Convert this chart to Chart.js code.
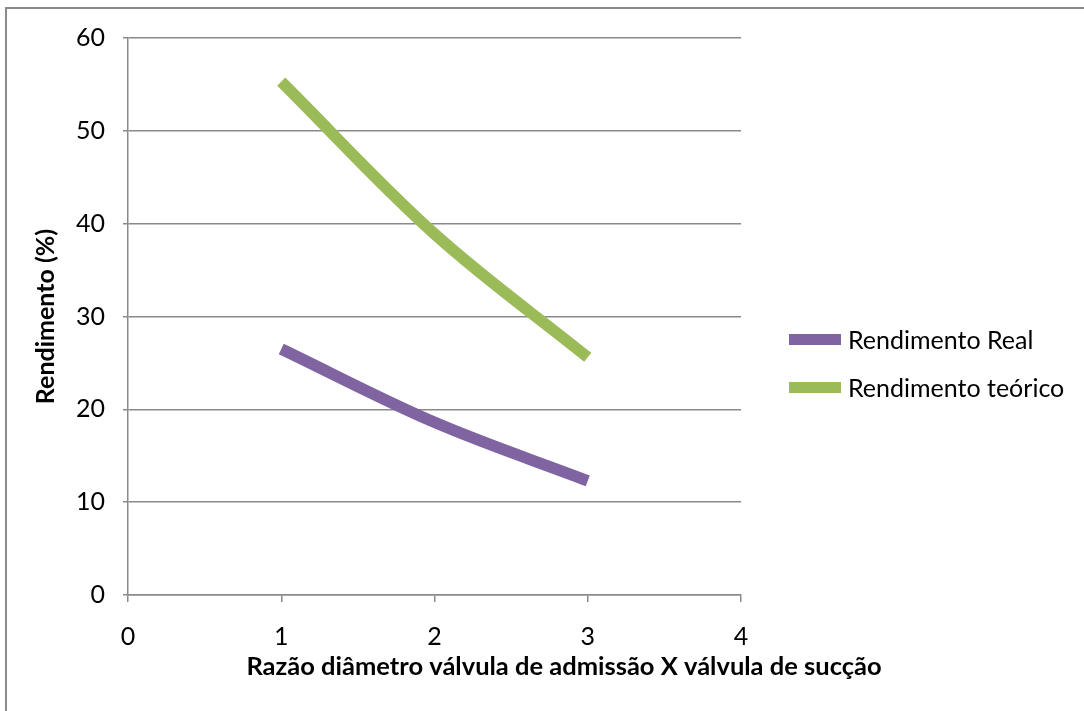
<!DOCTYPE html>
<html>
<head>
<meta charset="utf-8">
<script src="https://cdn.jsdelivr.net/npm/chart.js@4"></script>
<style>
  html, body { margin: 0; padding: 0; background: #fff; }
  #wrap { position: relative; width: 1084px; height: 711px; overflow: hidden; }
  #frame { position: absolute; left: 5px; top: 7px; width: 1200px; height: 800px;
           border-left: 2px solid #8a8a8a; border-top: 2px solid #8a8a8a; }
  #legend { position: absolute; left: 789px; top: 321px; font-family: Lato, sans-serif; font-size: 25px; color: #000; }
  .item { display: flex; align-items: center; height: 36px; margin-bottom: 12px; }
  .swatch { width: 52px; height: 11px; margin-right: 7px; }
</style>
</head>
<body>
<div id="wrap">
  <canvas id="c" width="1084" height="711"></canvas>
  <div id="frame"></div>
  <div id="legend"></div>
</div>
<script>
// Ratio of valve diameters (x) and efficiency in percent (y)
const razao = [1, 2, 3];
const rendimentoReal = [26.5, 18.6, 12.3];
const rendimentoTeorico = [55.3, 38.9, 25.6];
const seriesNames = ['Rendimento Real', 'Rendimento teórico'];
const seriesColors = ['#8064A2', '#9BBB59'];
const xTitle = 'Razão diâmetro válvula de admissão X válvula de sucção';
const yTitle = 'Rendimento (%)';

const toPoints = (ys) => razao.map((x, i) => ({ x: x, y: ys[i] }));

const FONT = 'Lato, sans-serif';
const gridGray = '#8a8a8a';

// The x-axis title is centred under the whole chart frame rather than the plot area
const xTitlePlugin = {
  id: 'xTitle',
  afterDraw(chart) {
    const ctx = chart.ctx;
    ctx.save();
    ctx.font = 'bold 25.5px ' + FONT;
    ctx.fillStyle = '#000';
    ctx.textAlign = 'center';
    ctx.textBaseline = 'middle';
    ctx.fillText(xTitle, 564, 667);
    ctx.restore();
  }
};

new Chart(document.getElementById('c'), {
  type: 'scatter',
  data: {
    datasets: [
      { label: seriesNames[0], data: toPoints(rendimentoReal), borderColor: seriesColors[0],
        backgroundColor: seriesColors[0], showLine: true, borderWidth: 11.5, tension: 0.35,
        pointRadius: 0, borderCapStyle: 'butt' },
      { label: seriesNames[1], data: toPoints(rendimentoTeorico), borderColor: seriesColors[1],
        backgroundColor: seriesColors[1], showLine: true, borderWidth: 11.5, tension: 0.35,
        pointRadius: 0, borderCapStyle: 'butt' }
    ]
  },
  plugins: [xTitlePlugin],
  options: {
    responsive: false,
    animation: false,
    devicePixelRatio: 1,
    layout: { padding: { left: 31, top: 38, right: 343, bottom: 29 } },
    plugins: { legend: { display: false }, tooltip: { enabled: false } },
    scales: {
      x: {
        type: 'linear', min: 0, max: 4,
        ticks: { stepSize: 1, color: '#000', font: { family: FONT, size: 25 }, padding: 20 },
        grid: { drawOnChartArea: false, drawTicks: true, tickLength: 7, color: gridGray, lineWidth: 1.5 },
        border: { color: gridGray, width: 1.5 },
        afterFit: (s) => { s.height = 87; }
      },
      y: {
        type: 'linear', min: 0, max: 60,
        ticks: { stepSize: 10, color: '#000', font: { family: FONT, size: 25 }, padding: 18 },
        grid: { drawOnChartArea: true, drawTicks: true, tickLength: 5, color: gridGray, lineWidth: 1.5 },
        border: { color: gridGray, width: 1.5 },
        title: { display: true, text: yTitle, color: '#000', font: { family: FONT, size: 25, weight: 'bold' }, padding: 0 },
        afterFit: (s) => { s.width = 97; }
      }
    }
  }
});

// Legend entries beside the plot
const legend = document.getElementById('legend');
seriesNames.forEach((name, i) => {
  const row = document.createElement('div');
  row.className = 'item';
  const sw = document.createElement('span');
  sw.className = 'swatch';
  sw.style.background = seriesColors[i];
  const label = document.createElement('span');
  label.textContent = name;
  row.appendChild(sw);
  row.appendChild(label);
  legend.appendChild(row);
});
</script>
</body>
</html>
